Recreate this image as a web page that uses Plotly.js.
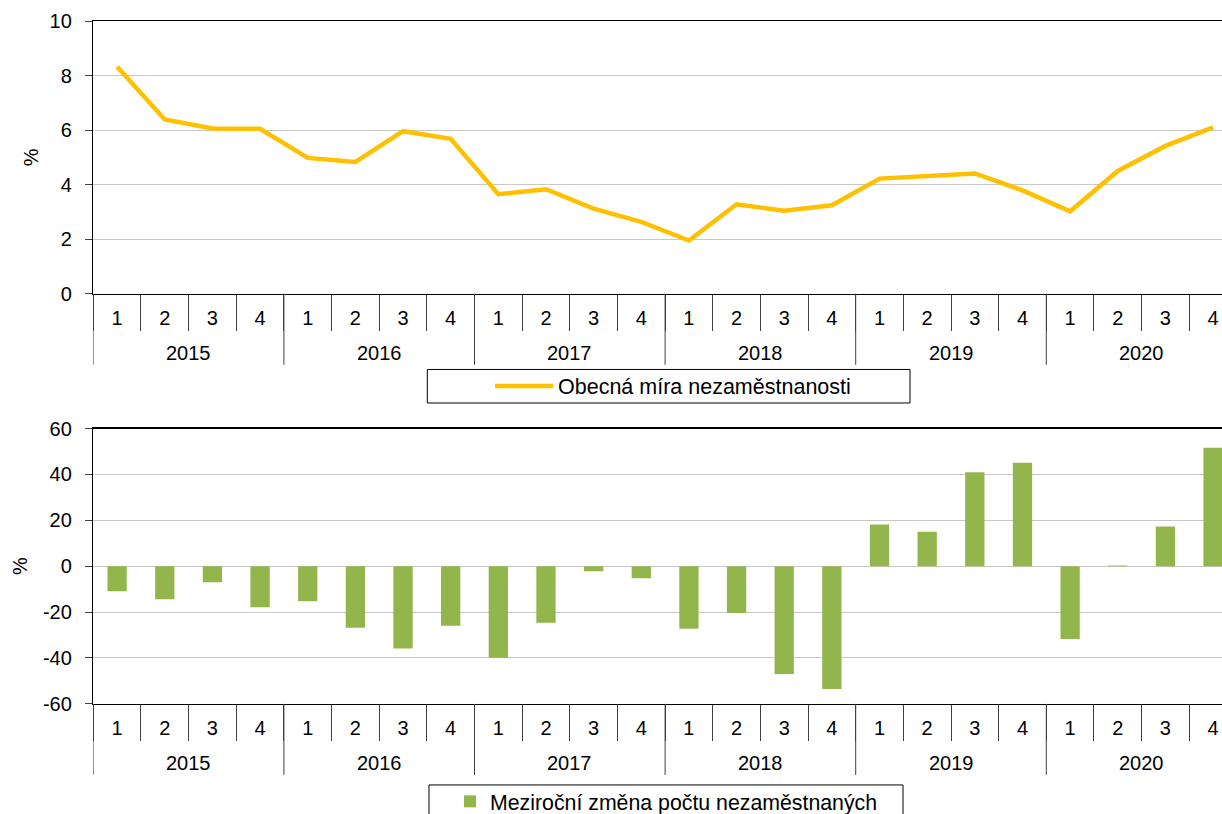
<!DOCTYPE html>
<html>
<head>
<meta charset="utf-8">
<script src="https://cdn.plot.ly/plotly-3.0.1.min.js"></script>
<style>
  html, body { margin: 0; padding: 0; background: #ffffff; overflow: hidden; }
  #chart { width: 1222px; height: 822px; overflow: hidden; }
</style>
</head>
<body>
<div id="chart"></div>
<script>
// ---- data ----
const years = ['2015', '2016', '2017', '2018', '2019', '2020'];
const quarters = ['1', '2', '3', '4'];
const unemploymentRate = [8.32, 6.39, 6.06, 6.05, 4.98, 4.83, 5.96, 5.68, 3.65, 3.83, 3.12, 2.63,
                          1.95, 3.28, 3.04, 3.24, 4.22, 4.31, 4.41, 3.79, 3.02, 4.50, 5.42, 6.10];
const yoyChange = [-10.9, -14.4, -7.0, -17.9, -15.3, -26.8, -35.9, -26.0, -39.9, -24.6, -2.2, -5.2,
                   -27.3, -20.4, -47.0, -53.5, 18.2, 15.0, 40.9, 45.1, -31.7, 0.3, 17.3, 51.6];
const seriesNames = ['Obecná míra nezaměstnanosti', 'Meziroční změna počtu nezaměstnaných'];
const rateTicks = [0, 2, 4, 6, 8, 10];
const changeTicks = [-60, -40, -20, 0, 20, 40, 60];
const changeTickText = ['-60', '-40', '-20', '0', '20', '40', '60'];

// ---- categories: one key per quarter, labelled with the quarter number ----
const xKey = [], xQuarterLabel = [];
years.forEach(y => quarters.forEach(q => { xKey.push(y + '-' + q); xQuarterLabel.push(q); }));
const nCat = xKey.length;
const nQ = quarters.length;
const boundaries = [];
for (let i = 0; i < nCat - 1; i++) boundaries.push(i + 0.5);

// ---- geometry helpers (reference pixel -> paper fraction) ----
const W = 1222, HREF = 814, HS = 822;
const px = v => v / W;
const py = v => 1 - v / HREF;

const FONT = 'Liberation Sans, Arial, sans-serif';
const fs = 20;
const plotLeft = 93.3;
const catW = 47.65;
const xEnd = -0.5 + (W - plotLeft) / catW;

const topBox = { t: 21, b: 293.3 };
const botBox = { t: 428, b: 703 };
const y1Domain = [py(topBox.b), py(topBox.t)];
const y2Range = [-60, 60];
const y2Domain = [py(botBox.b), py(botBox.t)];
const zeroPos = y2Domain[0] + (0 - y2Range[0]) / (y2Range[1] - y2Range[0]) * (y2Domain[1] - y2Domain[0]);
const tickFont = { family: FONT, size: fs, color: '#000' };

function quarterAxis(anchor) {
  return {
    type: 'category',
    domain: [px(plotLeft), 1],
    anchor: anchor,
    range: [-0.5, xEnd],
    categoryorder: 'array', categoryarray: xKey,
    tickmode: 'array', tickvals: xKey, ticktext: xQuarterLabel,
    showline: true, linecolor: '#000', linewidth: 1.5,
    mirror: true,
    ticks: 'outside', tickson: 'boundaries', ticklen: 36, tickcolor: '#404040', tickwidth: 1,
    ticklabelstandoff: 6,
    showgrid: false, zeroline: false,
    tickfont: tickFont
  };
}

// year labels (annotations) and year dividers (shapes) below each category axis
const yearLabelOffset = 59, dividerLen = 71;
const annotations = [];
const shapes = [];
[['x', topBox.b], ['x2', botBox.b]].forEach(([xref, axisY]) => {
  years.forEach((yr, i) => {
    const first = xKey.indexOf(yr + '-' + quarters[0]);
    const last = xKey.indexOf(yr + '-' + quarters[nQ - 1]);
    annotations.push({
      xref: xref, yref: 'paper', x: (first + last) / 2, y: py(axisY + yearLabelOffset),
      text: yr, showarrow: false, xanchor: 'center', yanchor: 'middle', font: tickFont
    });
    shapes.push({
      type: 'line', xref: xref, yref: 'paper', x0: first - 0.5, x1: first - 0.5,
      y0: py(axisY), y1: py(axisY + dividerLen), line: { color: '#404040', width: 1 }
    });
  });
});
// legend frames
shapes.push(
  { type: 'rect', xref: 'paper', yref: 'paper',
    x0: px(427.3), x1: px(910), y0: py(369), y1: py(402.5),
    line: { color: '#000', width: 1 }, fillcolor: 'rgba(0,0,0,0)' },
  { type: 'rect', xref: 'paper', yref: 'paper',
    x0: px(429), x1: px(903), y0: py(818), y1: py(784),
    line: { color: '#000', width: 1 }, fillcolor: 'rgba(0,0,0,0)' }
);

const traces = [
  {
    type: 'scatter', mode: 'lines',
    x: xKey, y: unemploymentRate,
    name: seriesNames[0],
    line: { color: '#FFC000', width: 4.5 },
    xaxis: 'x', yaxis: 'y', legend: 'legend'
  },
  {
    type: 'bar',
    x: xKey, y: yoyChange,
    name: seriesNames[1],
    marker: { color: '#93B64C' },
    xaxis: 'x2', yaxis: 'y2', legend: 'legend2'
  }
];

const layout = {
  width: W, height: HS,
  margin: { l: 0, r: 0, t: 0, b: 0 },
  paper_bgcolor: '#fff', plot_bgcolor: '#fff',
  font: { family: FONT, size: fs, color: '#000' },
  bargap: 0.595,
  xaxis: quarterAxis('y'),
  yaxis: {
    domain: y1Domain,
    anchor: 'x',
    range: [0, 10], tickmode: 'array', tickvals: rateTicks,
    showline: true, linecolor: '#000', linewidth: 1.5,
    ticks: 'outside', ticklen: 7, tickcolor: '#404040',
    ticklabelstandoff: 9,
    showgrid: true, gridcolor: '#C8C8C8', gridwidth: 1,
    zeroline: false,
    tickfont: tickFont,
    title: { text: '%', standoff: 5, font: tickFont }
  },
  xaxis2: quarterAxis('y2'),
  yaxis2: {
    domain: y2Domain,
    anchor: 'x2',
    range: y2Range, tickmode: 'array', tickvals: changeTicks, ticktext: changeTickText,
    showline: true, linecolor: '#000', linewidth: 1.5,
    ticks: 'outside', ticklen: 7, tickcolor: '#404040',
    ticklabelstandoff: 9,
    showgrid: true, gridcolor: '#C8C8C8', gridwidth: 1,
    zeroline: false,
    tickfont: tickFont,
    title: { text: '%', standoff: 10, font: tickFont }
  },
  xaxis3: {
    overlaying: 'x2',
    anchor: 'free',
    position: zeroPos,
    domain: [px(plotLeft), 1],
    type: 'linear',
    range: [-0.5, xEnd],
    tickmode: 'array', tickvals: boundaries,
    ticks: 'outside', ticklen: 6, tickcolor: '#404040',
    showticklabels: false,
    showline: true, linecolor: '#000', linewidth: 1,
    showgrid: false, zeroline: false
  },
  legend: {
    x: px(490), y: py(385.5), xanchor: 'left', yanchor: 'middle',
    orientation: 'h',
    bgcolor: 'rgba(0,0,0,0)', borderwidth: 0,
    itemwidth: 58,
    font: { family: FONT, size: fs + 1.5, color: '#000' }
  },
  legend2: {
    x: px(450), y: py(801), xanchor: 'left', yanchor: 'middle',
    orientation: 'h',
    bgcolor: 'rgba(0,0,0,0)', borderwidth: 0,
    font: { family: FONT, size: fs + 1.3, color: '#000' }
  },
  annotations: annotations,
  shapes: shapes,
  showlegend: true
};

Plotly.newPlot('chart', traces, layout, { displayModeBar: false, staticPlot: true });
</script>
</body>
</html>
